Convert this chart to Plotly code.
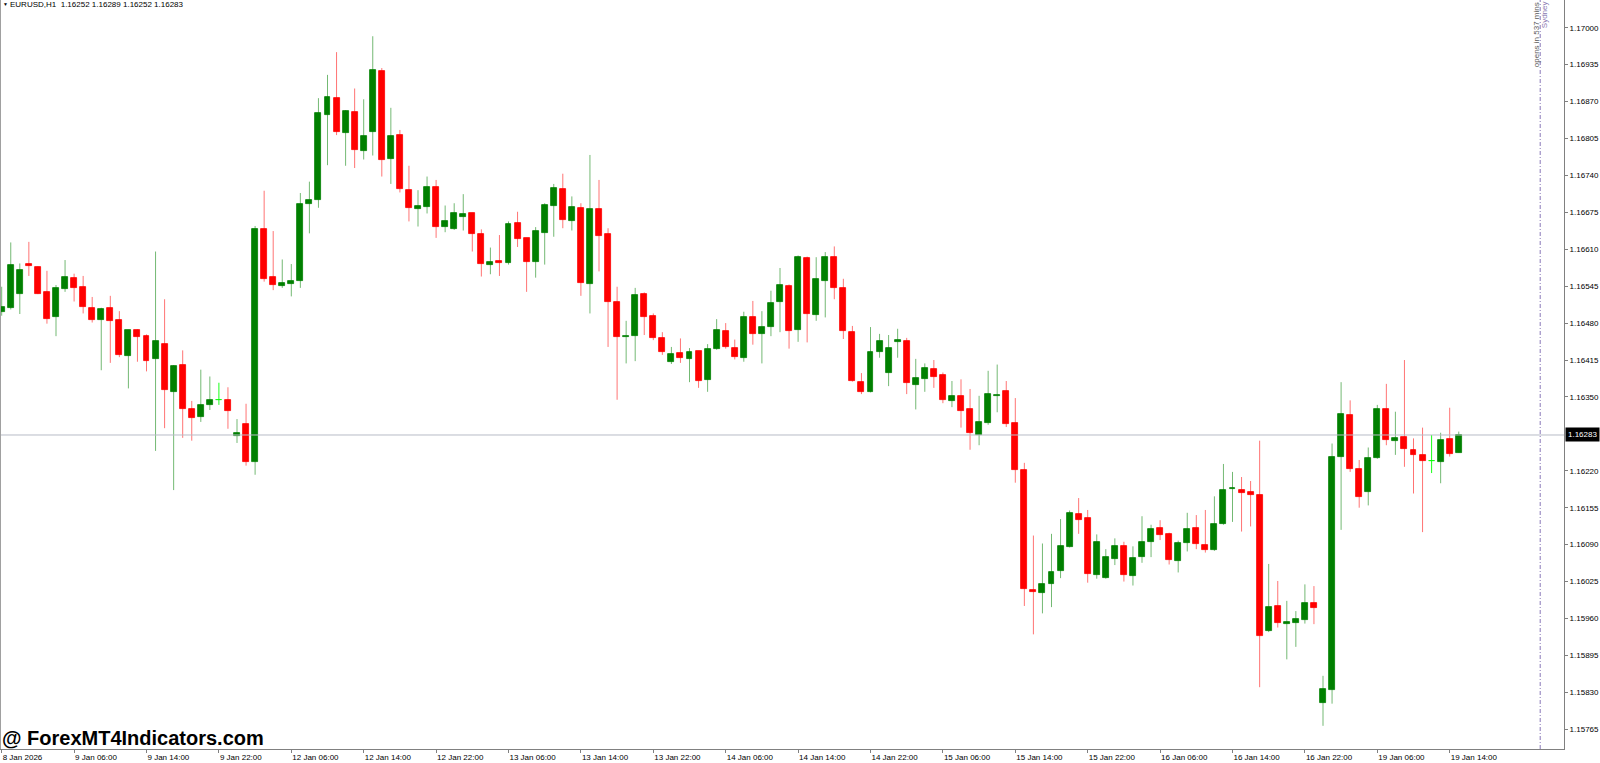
import plotly.graph_objects as go

# ---------------- data (EURUSD H1) ----------------
opens = [1.16500, 1.16507, 1.16532, 1.16584, 1.16579, 1.16534, 1.16490, 1.16540, 1.16559, 1.16544,
         1.16507, 1.16485, 1.16507, 1.16486, 1.16422, 1.16468, 1.16457, 1.16417, 1.16444, 1.16359,
         1.16406, 1.16329, 1.16315, 1.16336, 1.16345, 1.16344, 1.16282, 1.16302, 1.16236, 1.16646,
         1.16562, 1.16546, 1.16548, 1.16554, 1.16689, 1.16696, 1.16846, 1.16876, 1.16815, 1.16851,
         1.16783, 1.16816, 1.16924, 1.16769, 1.16812, 1.16715, 1.16680, 1.16685, 1.16720, 1.16649,
         1.16646, 1.16666, 1.16673, 1.16637, 1.16583, 1.16589, 1.16585, 1.16656, 1.16629, 1.16588,
         1.16638, 1.16686, 1.16716, 1.16660, 1.16683, 1.16548, 1.16680, 1.16636, 1.16517, 1.16455,
         1.16458, 1.16531, 1.16492, 1.16453, 1.16412, 1.16427, 1.16417, 1.16430, 1.16379, 1.16434,
         1.16466, 1.16437, 1.16419, 1.16491, 1.16460, 1.16473, 1.16517, 1.16546, 1.16467, 1.16595,
         1.16495, 1.16554, 1.16596, 1.16541, 1.16465, 1.16376, 1.16359, 1.16429, 1.16392, 1.16446,
         1.16449, 1.16371, 1.16382, 1.16400, 1.16388, 1.16342, 1.16352, 1.16328, 1.16283, 1.16304,
         1.16352, 1.16360, 1.16304, 1.16221, 1.16011, 1.16005, 1.16021, 1.16044, 1.16086, 1.16144,
         1.16136, 1.16037, 1.16031, 1.16065, 1.16087, 1.16035, 1.16068, 1.16095, 1.16120, 1.16109,
         1.16062, 1.16092, 1.16119, 1.16090, 1.16080, 1.16126, 1.16188, 1.16187, 1.16183, 1.16177,
         1.15938, 1.15982, 1.15951, 1.15952, 1.15958, 1.15988, 1.15811, 1.15834, 1.16244, 1.16318,
         1.16224, 1.16182, 1.16242, 1.16329, 1.16273, 1.16279, 1.16257, 1.16247, 1.16237, 1.16236,
         1.16276, 1.16252]
highs = [1.16544, 1.16622, 1.16585, 1.16623, 1.16580, 1.16572, 1.16547, 1.16591, 1.16567, 1.16563,
         1.16526, 1.16507, 1.16528, 1.16501, 1.16468, 1.16469, 1.16460, 1.16606, 1.16522, 1.16406,
         1.16432, 1.16343, 1.16398, 1.16386, 1.16375, 1.16367, 1.16311, 1.16338, 1.16651, 1.16713,
         1.16642, 1.16592, 1.16584, 1.16709, 1.16729, 1.16876, 1.16917, 1.16957, 1.16855, 1.16893,
         1.16874, 1.16985, 1.16929, 1.16859, 1.16820, 1.16757, 1.16714, 1.16738, 1.16732, 1.16687,
         1.16691, 1.16707, 1.16674, 1.16645, 1.16613, 1.16635, 1.16659, 1.16676, 1.16630, 1.16649,
         1.16691, 1.16725, 1.16743, 1.16703, 1.16691, 1.16776, 1.16732, 1.16647, 1.16544, 1.16484,
         1.16542, 1.16534, 1.16497, 1.16464, 1.16438, 1.16453, 1.16436, 1.16431, 1.16443, 1.16487,
         1.16480, 1.16451, 1.16500, 1.16519, 1.16501, 1.16537, 1.16577, 1.16548, 1.16599, 1.16597,
         1.16596, 1.16605, 1.16615, 1.16558, 1.16475, 1.16392, 1.16473, 1.16461, 1.16459, 1.16470,
         1.16454, 1.16417, 1.16409, 1.16415, 1.16393, 1.16378, 1.16381, 1.16364, 1.16352, 1.16396,
         1.16407, 1.16378, 1.16348, 1.16234, 1.16106, 1.16092, 1.16109, 1.16135, 1.16150, 1.16172,
         1.16151, 1.16108, 1.16082, 1.16101, 1.16095, 1.16087, 1.16140, 1.16125, 1.16133, 1.16111,
         1.16097, 1.16146, 1.16142, 1.16151, 1.16175, 1.16232, 1.16218, 1.16209, 1.16202, 1.16273,
         1.16056, 1.16026, 1.15991, 1.15973, 1.16020, 1.16017, 1.15859, 1.16268, 1.16376, 1.16344,
         1.16239, 1.16261, 1.16336, 1.16373, 1.16324, 1.16415, 1.16277, 1.16296, 1.16283, 1.16287,
         1.16331, 1.16289]
lows = [1.16493, 1.16504, 1.16496, 1.16563, 1.16531, 1.16479, 1.16457, 1.16535, 1.16518, 1.16497,
        1.16481, 1.16397, 1.16410, 1.16420, 1.16365, 1.16412, 1.16395, 1.16255, 1.16295, 1.16186,
        1.16278, 1.16273, 1.16306, 1.16327, 1.16336, 1.16294, 1.16269, 1.16229, 1.16213, 1.16553,
        1.16538, 1.16542, 1.16527, 1.16542, 1.16638, 1.16683, 1.16758, 1.16811, 1.16757, 1.16753,
        1.16768, 1.16775, 1.16738, 1.16725, 1.16710, 1.16659, 1.16650, 1.16673, 1.16630, 1.16640,
        1.16644, 1.16643, 1.16606, 1.16562, 1.16566, 1.16563, 1.16583, 1.16614, 1.16535, 1.16560,
        1.16583, 1.16632, 1.16647, 1.16643, 1.16528, 1.16497, 1.16571, 1.16438, 1.16345, 1.16409,
        1.16413, 1.16459, 1.16450, 1.16424, 1.16408, 1.16410, 1.16376, 1.16366, 1.16359, 1.16433,
        1.16435, 1.16416, 1.16412, 1.16442, 1.16409, 1.16457, 1.16464, 1.16435, 1.16447, 1.16446,
        1.16484, 1.16490, 1.16522, 1.16452, 1.16377, 1.16355, 1.16358, 1.16419, 1.16369, 1.16419,
        1.16355, 1.16328, 1.16359, 1.16366, 1.16339, 1.16332, 1.16296, 1.16257, 1.16265, 1.16301,
        1.16323, 1.16297, 1.16199, 1.15982, 1.15932, 1.15969, 1.15980, 1.16031, 1.16085, 1.16109,
        1.16023, 1.16030, 1.16030, 1.16054, 1.16025, 1.16018, 1.16058, 1.16068, 1.16098, 1.16055,
        1.16041, 1.16078, 1.16082, 1.16076, 1.16079, 1.16125, 1.16130, 1.16113, 1.16122, 1.15839,
        1.15936, 1.15944, 1.15888, 1.15910, 1.15951, 1.15950, 1.15771, 1.15810, 1.16116, 1.16218,
        1.16155, 1.16159, 1.16241, 1.16265, 1.16248, 1.16227, 1.16180, 1.16112, 1.16216, 1.16198,
        1.16245, 1.16252]
closes = [1.16508, 1.16583, 1.16574, 1.16581, 1.16532, 1.16488, 1.16541, 1.16561, 1.16541, 1.16508,
          1.16485, 1.16505, 1.16484, 1.16423, 1.16467, 1.16456, 1.16413, 1.16449, 1.16362, 1.16404,
          1.16329, 1.16313, 1.16336, 1.16344, 1.16345, 1.16326, 1.16286, 1.16236, 1.16645, 1.16558,
          1.16547, 1.16551, 1.16554, 1.16690, 1.16697, 1.16849, 1.16878, 1.16816, 1.16853, 1.16785,
          1.16809, 1.16926, 1.16768, 1.16809, 1.16716, 1.16683, 1.16687, 1.16719, 1.16650, 1.16660,
          1.16673, 1.16672, 1.16636, 1.16584, 1.16588, 1.16586, 1.16654, 1.16628, 1.16588, 1.16642,
          1.16688, 1.16717, 1.16662, 1.16684, 1.16550, 1.16680, 1.16634, 1.16517, 1.16456, 1.16458,
          1.16530, 1.16490, 1.16453, 1.16429, 1.16426, 1.16419, 1.16429, 1.16378, 1.16434, 1.16467,
          1.16438, 1.16420, 1.16490, 1.16461, 1.16474, 1.16516, 1.16547, 1.16466, 1.16596, 1.16496,
          1.16557, 1.16596, 1.16542, 1.16466, 1.16378, 1.16359, 1.16429, 1.16449, 1.16436, 1.16450,
          1.16375, 1.16384, 1.16401, 1.16385, 1.16344, 1.16351, 1.16326, 1.16287, 1.16306, 1.16355,
          1.16354, 1.16303, 1.16221, 1.16012, 1.16006, 1.16020, 1.16042, 1.16088, 1.16146, 1.16134,
          1.16038, 1.16095, 1.16068, 1.16088, 1.16037, 1.16067, 1.16095, 1.16118, 1.16107, 1.16063,
          1.16092, 1.16117, 1.16091, 1.16081, 1.16126, 1.16187, 1.16190, 1.16181, 1.16177, 1.15930,
          1.15981, 1.15952, 1.15954, 1.15959, 1.15988, 1.15978, 1.15836, 1.16244, 1.16320, 1.16223,
          1.16174, 1.16243, 1.16328, 1.16274, 1.16277, 1.16258, 1.16247, 1.16238, 1.16237, 1.16275,
          1.16250, 1.16283]

tick_bars = list(range(0, 161, 8))
tick_labels = ["8 Jan 2026", "9 Jan 06:00", "9 Jan 14:00", "9 Jan 22:00", "12 Jan 06:00",
               "12 Jan 14:00", "12 Jan 22:00", "13 Jan 06:00", "13 Jan 14:00", "13 Jan 22:00",
               "14 Jan 06:00", "14 Jan 14:00", "14 Jan 22:00", "15 Jan 06:00", "15 Jan 14:00",
               "15 Jan 22:00", "16 Jan 06:00", "16 Jan 14:00", "16 Jan 22:00", "19 Jan 06:00",
               "19 Jan 14:00"]
price_ticks = [1.17000, 1.16935, 1.16870, 1.16805, 1.16740, 1.16675, 1.16610, 1.16545, 1.16480,
               1.16415, 1.16350, 1.16220, 1.16155, 1.16090, 1.16025, 1.15960, 1.15895, 1.15830,
               1.15765]
current_price = 1.16283
session_bar = 170  # Sydney session open (20 Jan 00:00)
header = "EURUSD,H1\u00a0\u00a01.16252 1.16289 1.16252 1.16283"

# ---------------- build ----------------
FONT = "Liberation Sans, Arial, sans-serif"
GREEN, RED, LIME = "#008000", "#ff0000", "#00ff00"
idx = list(range(len(opens)))

body_col = []
for o, c in zip(opens, closes):
    body_col.append(GREEN if c > o else (RED if c < o else LIME))

fig = go.Figure()

wick_style = {GREEN: "rgba(0,128,0,0.55)", RED: "rgba(255,0,0,0.55)", LIME: "rgba(0,255,0,0.9)"}
for col, wcol in wick_style.items():
    xs, ys = [], []
    for i in idx:
        if body_col[i] == col:
            xs += [i, i, None]
            ys += [lows[i], highs[i], None]
    fig.add_trace(go.Scatter(x=xs, y=ys, mode="lines", line=dict(color=wcol, width=1),
                             hoverinfo="skip", showlegend=False))

fig.add_trace(go.Bar(
    x=idx,
    base=[min(o, c) for o, c in zip(opens, closes)],
    y=[abs(c - o) for o, c in zip(opens, closes)],
    width=0.66,
    marker=dict(color=body_col, line=dict(color=body_col, width=0.8)),
    showlegend=False,
    hoverinfo="skip",
))

fig.update_layout(
    template="none",
    width=1600, height=763,
    margin=dict(l=0, r=36, t=0, b=14),
    paper_bgcolor="white", plot_bgcolor="white",
    showlegend=False,
    bargap=0,
    font=dict(family=FONT, size=8, color="black"),
    xaxis=dict(
        range=[-0.188, 172.63],
        tickmode="array", tickvals=tick_bars, ticktext=tick_labels,
        ticks="outside", ticklen=3, tickcolor="#808080",
        ticklabelposition="outside right",
        tickfont=dict(family=FONT, size=8, color="black"),
        showgrid=False, zeroline=False,
        showline=True, linecolor="#808080", linewidth=1,
        automargin=False,
    ),
    yaxis=dict(
        side="right",
        range=[1.157302, 1.170488],
        tickmode="array", tickvals=price_ticks,
        ticktext=[f"{v:.5f}" for v in price_ticks],
        ticks="outside", ticklen=3, tickcolor="#808080",
        tickfont=dict(family=FONT, size=8, color="black"),
        showgrid=False, zeroline=False,
        showline=True, linecolor="#808080", linewidth=1,
        automargin=False,
    ),
)

# current price line and session separator
fig.add_shape(type="line", xref="paper", x0=0, x1=1, yref="y", y0=current_price, y1=current_price,
              line=dict(color="#b8bcc6", width=1))
fig.add_shape(type="line", xref="x", x0=session_bar, x1=session_bar, yref="paper", y0=0, y1=1,
              line=dict(color="#8878b8", width=1, dash="4px,2px,1px,2px"))
fig.add_shape(type="line", xref="paper", x0=0, x1=0, yref="paper", y0=0, y1=1,
              line=dict(color="#a0a0a0", width=2))

# texts
fig.add_annotation(xref="paper", yref="paper", x=0, y=1 - 4.5 / 749, xshift=1,
                   text="\u25bc", showarrow=False, xanchor="left", yanchor="middle",
                   font=dict(family=FONT, size=5, color="black"))
fig.add_annotation(xref="paper", yref="paper", x=0, y=1 - 4.5 / 749, xshift=8,
                   text=header, showarrow=False, xanchor="left", yanchor="middle",
                   font=dict(family=FONT, size=8, color="black"))
fig.add_annotation(xref="paper", yref="paper", x=0, y=1 - 738 / 749, xshift=0,
                   text="<b>@ ForexMT4Indicators.com</b>", showarrow=False,
                   xanchor="left", yanchor="middle",
                   font=dict(family=FONT, size=20, color="black"))
fig.add_annotation(xref="paper", yref="y", x=1, y=current_price, xshift=1,
                   text=f"{current_price:.5f}", showarrow=False, xanchor="left", yanchor="middle",
                   bgcolor="black", borderpad=2,
                   font=dict(family=FONT, size=8, color="white"))
fig.add_annotation(xref="x", yref="paper", x=session_bar, y=1 - 35 / 749, xshift=-4,
                   text="opens in 537 mins", textangle=-90, showarrow=False,
                   xanchor="center", yanchor="middle",
                   font=dict(family=FONT, size=8, color="#5a5a5a"))
fig.add_annotation(xref="x", yref="paper", x=session_bar, y=1 - 15 / 749, xshift=4,
                   text="Sydney", textangle=-90, showarrow=False,
                   xanchor="center", yanchor="middle",
                   font=dict(family=FONT, size=8, color="#8878b0"))

fig.write_html("out.html",
               config={"displayModeBar": False},
               post_script="document.body.style.margin='0';document.body.style.overflow='hidden';")
